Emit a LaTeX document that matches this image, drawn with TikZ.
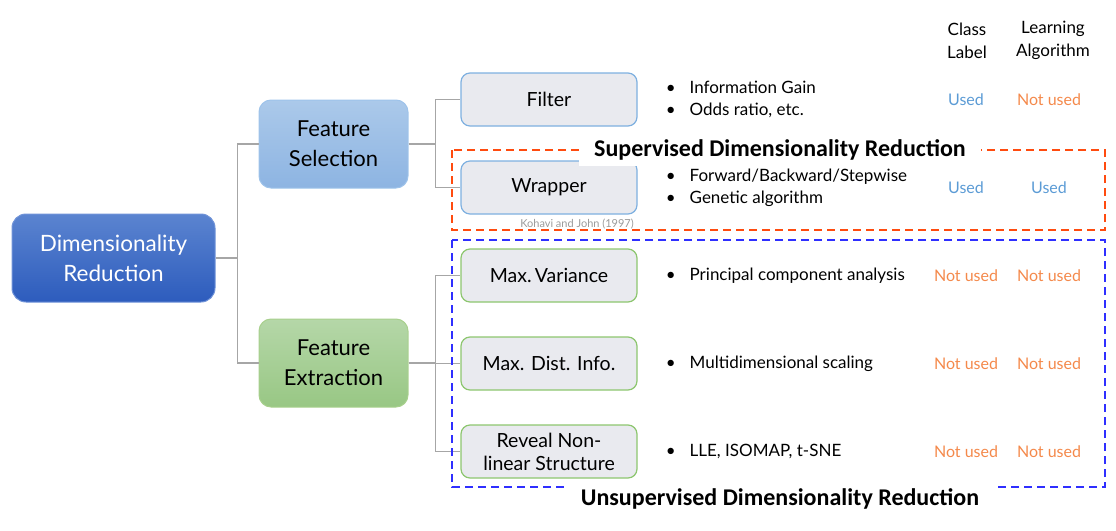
\documentclass[tikz,border=0pt]{standalone}
\usepackage{fontspec}
\setmainfont{Lato}
\newfontfamily\titlefont{Carlito}
\usetikzlibrary{positioning}
\definecolor{drtop}{HTML}{5B84D0}
\definecolor{drbot}{HTML}{2D5CBD}
\definecolor{drline}{HTML}{7093D8}
\definecolor{fstop}{HTML}{ABC9EA}
\definecolor{fsbot}{HTML}{8DB4E2}
\definecolor{fsline}{HTML}{9EC3EA}
\definecolor{fetop}{HTML}{B5D7A8}
\definecolor{febot}{HTML}{98C784}
\definecolor{feline}{HTML}{A8D08D}
\definecolor{boxgray}{HTML}{E9EAEF}
\definecolor{selline}{HTML}{7EB0E0}
\definecolor{extline}{HTML}{8DC66F}
\definecolor{usedc}{HTML}{5B9BD5}
\definecolor{notusedc}{HTML}{F4894B}
\definecolor{supc}{HTML}{FF4B0F}
\definecolor{unsupc}{HTML}{2F2FFF}
\definecolor{linkc}{HTML}{A6A6A6}
\definecolor{citec}{HTML}{9A9A9A}

\begin{document}
\begin{tikzpicture}
    [x=1pt, y=-1pt,
    node distance=88pt,
    link/.style={draw=linkc, line width=1.5pt},
    bigbox/.style={rounded corners=14pt, line width=1pt, minimum width=203pt, minimum height=88pt,
        align=center, font=\fontsize{22.5}{30}\selectfont},
    midbox/.style={rounded corners=12pt, line width=1pt, minimum width=149pt, minimum height=88pt,
        align=center, font=\fontsize{22}{30}\selectfont},
    method/.style={rounded corners=9pt, line width=1.2pt, fill=boxgray, minimum width=176pt, minimum height=53pt,
        align=center, inner sep=2pt, font=\fontsize{19.5}{23}\selectfont},
    desc/.style={align=left, inner sep=0pt, font=\fontsize{17}{22}\selectfont},
    colhead/.style={align=center, font=\fontsize{17}{23}\selectfont},
    used/.style={text=usedc, font=\fontsize{16}{20}\selectfont},
    notused/.style={text=notusedc, font=\fontsize{16}{20}\selectfont},
    region/.style={line width=2pt, dash pattern=on 8pt off 5pt},
    regiontitle/.style={fill=white, inner xsep=15pt, minimum height=32pt, font=\titlefont\bfseries\fontsize{24}{26}\selectfont}]
    \useasboundingbox (0,0) rectangle (1116,530);

        %% Tree
    \node[bigbox, top color=drtop, bottom color=drbot, draw=drline, text=white] (DR) at (113.5,258) {Dimensionality\\Reduction};
    \node[midbox, top color=fstop, bottom color=fsbot, draw=fsline] (FS) at (333.5,144) {Feature\\Selection};
    \node[midbox, top color=fetop, bottom color=febot, draw=feline] (FE) at (333.5,363) {Feature\\Extraction};

    \node[method, draw=selline] (Filter) at (549,99.5) {Filter};
    \node[method, draw=selline, below of=Filter] (Wrapper) {Wrapper};
    \node[method, draw=extline, below of=Wrapper] (MaxVar) {Max.\,Variance};
    \node[method, draw=extline, below of=MaxVar] (MaxDist) {Max. Dist. Info.};
    \node[method, draw=extline, below of=MaxDist] (NonLin) {Reveal Non-\\linear Structure};
    \node[text=citec, font=\fontsize{11}{12}\selectfont] (Kohavi) at (577,224) {Kohavi and John (1997)};

    \draw[link] (DR.east) -- ++(22,0) |- (FS.west);
    \draw[link] (DR.east) -- ++(22,0) |- (FE.west);
    \draw[link] (FS.east) -- ++(27,0) |- (Filter.west);
    \draw[link] (FS.east) -- ++(27,0) |- (Wrapper.west);
    \draw[link] (FE.east) -- ++(27,0) |- (MaxVar.west);
    \draw[link] (FE.east) -- ++(27,0) |- (MaxDist.west);
    \draw[link] (FE.east) -- ++(27,0) |- (NonLin.west);

        %% Methods
    \node[desc, right=28pt of Filter] (dFilter) {\textbullet\hspace{14pt}Information Gain\\\textbullet\hspace{14pt}Odds ratio, etc.};
    \node[desc, right=28pt of Wrapper] (dWrapper) {\textbullet\hspace{14pt}Forward/Backward/Stepwise\\\textbullet\hspace{14pt}Genetic algorithm};
    \node[desc, right=28pt of MaxVar] (dMaxVar) {\textbullet\hspace{14pt}Principal component analysis};
    \node[desc, right=28pt of MaxDist] (dMaxDist) {\textbullet\hspace{14pt}Multidimensional scaling};
    \node[desc, right=28pt of NonLin] (dNonLin) {\textbullet\hspace{14pt}LLE, ISOMAP, t-SNE};

        %% Columns
    \node[colhead] (Label) at (967,40.5) {Class\\Label};
    \node[colhead] (Algo) at (1053,40.5) {Learning\\Algorithm};
    \node[used] (L1) at (966,100) {Used};
    \node[notused] (A1) at (1049,100) {Not used};
    \node[used, below of=L1] (L2) {Used};
    \node[used, below of=A1] (A2) {Used};
    \node[notused, below of=L2] (L3) {Not used};
    \node[notused, below of=A2] (A3) {Not used};
    \node[notused, below of=L3] (L4) {Not used};
    \node[notused, below of=A3] (A4) {Not used};
    \node[notused, below of=L4] (L5) {Not used};
    \node[notused, below of=A4] (A5) {Not used};

        %% Regions
    \draw[region, draw=supc] (452,150) rectangle (1105,230);
    \draw[region, draw=unsupc] (452,240) rectangle (1105,487);
    \node[regiontitle] (Sup) at (780,150) {Supervised Dimensionality Reduction};
    \node[regiontitle] (Unsup) at (780,499) {Unsupervised Dimensionality Reduction};
\end{tikzpicture}
\end{document}
